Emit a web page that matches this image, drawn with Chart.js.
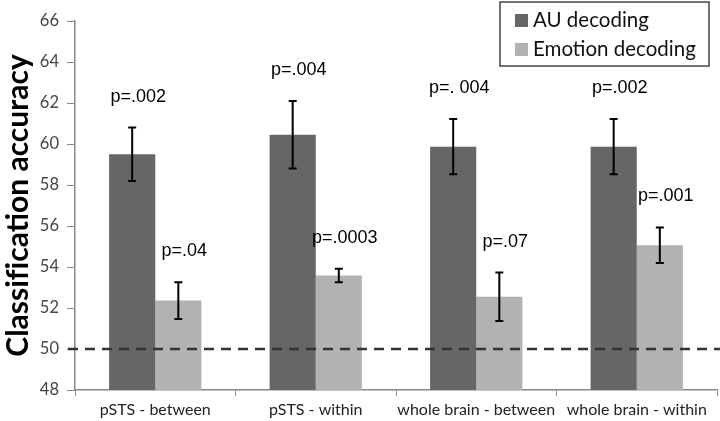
<!DOCTYPE html>
<html>
<head>
<meta charset="utf-8">
<script src="https://cdn.jsdelivr.net/npm/chart.js@4/dist/chart.umd.min.js"></script>
<style>
  html, body { margin: 0; padding: 0; background: #fff; }
  #wrap { width: 720px; height: 421px; position: relative; }
</style>
</head>
<body>
<div id="wrap"><canvas id="chart"></canvas></div>
<script>
const categories = ['pSTS - between', 'pSTS - within', 'whole brain - between', 'whole brain - within'];
const auMeans = [59.5, 60.45, 59.87, 59.87];
const auErrors = [1.3, 1.65, 1.35, 1.35];
const emoMeans = [52.36, 53.59, 52.55, 55.06];
const emoErrors = [0.9, 0.33, 1.18, 0.87];
const auPValues = ['p=.002', 'p=.004', 'p=. 004', 'p=.002'];
const emoPValues = ['p=.04', 'p=.0003', 'p=.07', 'p=.001'];
const chanceLevel = 50;
const yTicks = [48, 50, 52, 54, 56, 58, 60, 62, 64, 66];

const errorBars = {
    id: 'errorBars',
    afterDatasetsDraw(chart) {
        const ctx = chart.ctx;
        const y = chart.scales.y;
        const area = chart.chartArea;

        // chance line
        ctx.save();
        ctx.strokeStyle = '#333';
        ctx.lineWidth = 2.5;
        ctx.setLineDash([10, 7]);
        const yc = Math.round(y.getPixelForValue(chanceLevel));
        ctx.beginPath();
        ctx.moveTo(area.left - 7, yc);
        ctx.lineTo(720, yc);
        ctx.stroke();
        ctx.restore();

        const errs = [auErrors, emoErrors];
        const labels = [auPValues, emoPValues];
        chart.data.datasets.forEach((ds, di) => {
            const meta = chart.getDatasetMeta(di);
            meta.data.forEach((bar, i) => {
                const v = ds.data[i];
                const top = y.getPixelForValue(v + errs[di][i]);
                const bot = y.getPixelForValue(v - errs[di][i]);
                ctx.save();
                ctx.strokeStyle = '#000';
                ctx.lineWidth = 2;
                ctx.beginPath();
                ctx.moveTo(bar.x, top);
                ctx.lineTo(bar.x, bot);
                ctx.moveTo(bar.x - 4, top);
                ctx.lineTo(bar.x + 4, top);
                ctx.moveTo(bar.x - 4, bot);
                ctx.lineTo(bar.x + 4, bot);
                ctx.stroke();
                ctx.fillStyle = '#000';
                ctx.font = '18px "Liberation Sans", Arial, sans-serif';
                ctx.textAlign = 'center';
                ctx.textBaseline = 'middle';
                ctx.fillText(labels[di][i], bar.x + 6, top - 31);
                ctx.restore();
            });
        });

        // legend box
        ctx.save();
        ctx.fillStyle = '#fff';
        ctx.fillRect(500, 2, 209, 64);
        ctx.strokeStyle = '#444';
        ctx.lineWidth = 1.5;
        ctx.strokeRect(500, 2, 209, 64);
        ctx.font = '20.5px Lato, "Open Sans", sans-serif';
        ctx.textBaseline = 'middle';
        ctx.textAlign = 'left';
        chart.data.datasets.forEach((ds, di) => {
            const cy = di === 0 ? 20 : 49;
            ctx.fillStyle = ds.backgroundColor;
            ctx.fillRect(515, cy - 6, 13, 13);
            ctx.fillStyle = '#111';
            ctx.fillText(ds.label, 533, cy);
        });
        ctx.restore();
    }
};

new Chart(document.getElementById('chart'), {
    type: 'bar',
    data: {
        labels: categories,
        datasets: [
            { label: 'AU decoding', data: auMeans, backgroundColor: '#666666' },
            { label: 'Emotion decoding', data: emoMeans, backgroundColor: '#b2b2b2' }
        ]
    },
    options: {
        responsive: true,
        maintainAspectRatio: false,
        animation: false,
        devicePixelRatio: 1,
        layout: { padding: { top: 21, right: 3, left: 0, bottom: 0 } },
        categoryPercentage: 0.575,
        barPercentage: 1.0,
        plugins: {
            legend: { display: false },
            tooltip: { enabled: false }
        },
        scales: {
            x: {
                offset: true,
                grid: { display: true, offset: true, drawOnChartArea: false, drawTicks: true, tickLength: 6, color: '#888' },
                border: { color: '#888', width: 1.5 },
                ticks: { color: '#222', font: { family: 'Lato', size: 16 }, padding: 4, maxRotation: 0, autoSkip: false },
                afterFit(scale) { scale.height = 31; }
            },
            y: {
                min: 48,
                max: 66,
                afterBuildTicks(scale) { scale.ticks = yTicks.map(v => ({ value: v })); },
                grid: { display: true, drawOnChartArea: false, drawTicks: true, tickLength: 8, color: '#888' },
                border: { color: '#888', width: 1.5 },
                ticks: { color: '#444', font: { family: 'Lato', size: 16.5 }, padding: 8 },
                title: {
                    display: true,
                    text: 'Classif\u200Cication accuracy',
                    color: '#000',
                    font: { family: 'Lato', size: 30, weight: 'bold' },
                    padding: { top: 0, bottom: 0 }
                },
                afterFit(scale) { scale.width = 75; }
            }
        }
    },
    plugins: [errorBars]
});
</script>
</body>
</html>
